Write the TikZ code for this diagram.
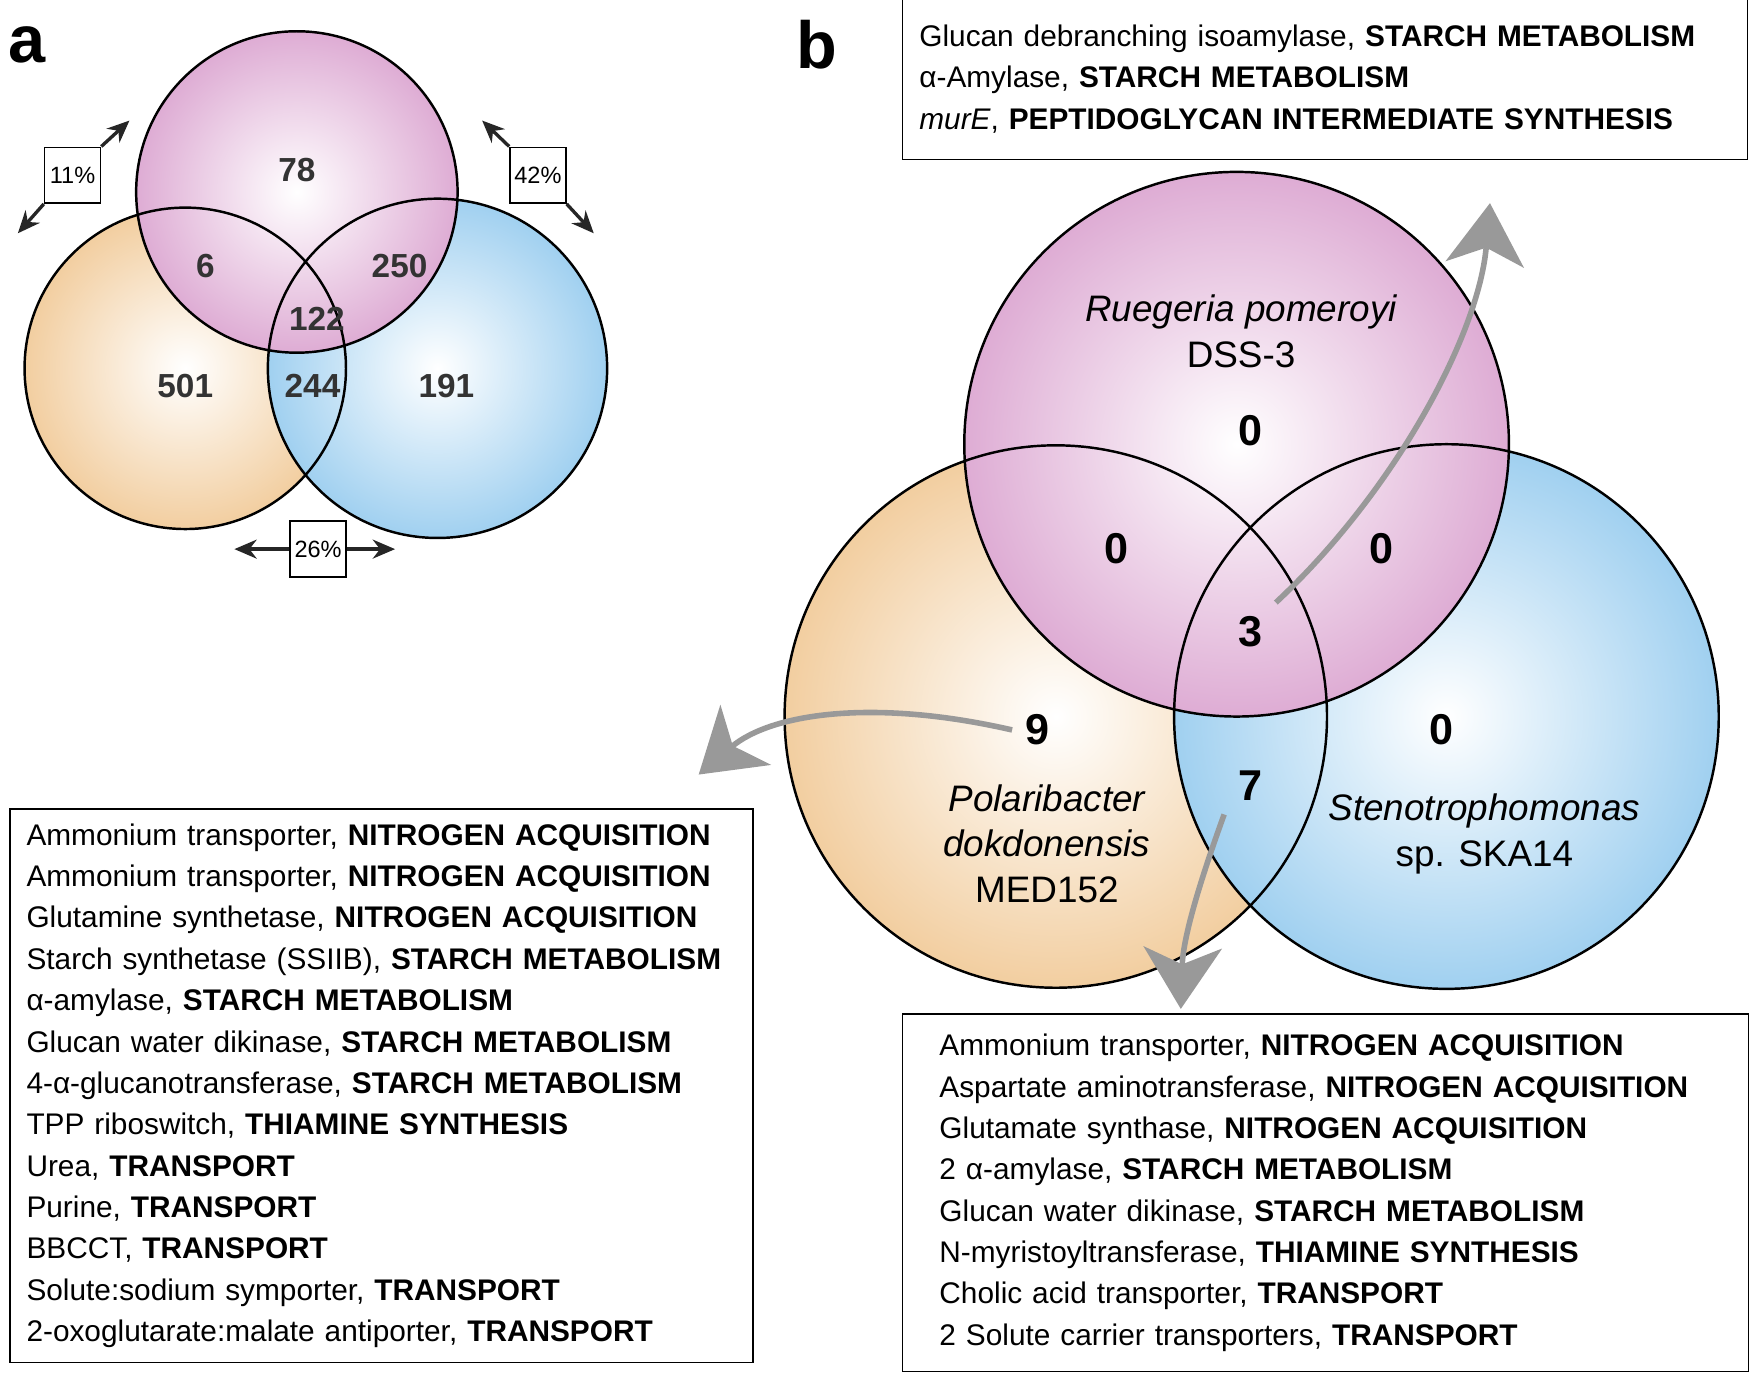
\documentclass[tikz,border=0pt]{standalone}
\usepackage{fontspec}
\setmainfont{Liberation Sans}
\usetikzlibrary{arrows.meta}
\definecolor{vpink}{RGB}{222,172,212}
\definecolor{vorange}{RGB}{242,206,160}
\definecolor{vblue}{RGB}{160,208,240}
\tikzset{
  venn/.style={shading=radial,inner color=white},
  rim/.style={draw=black,line width=0.22mm},
  cnt/.style={font=\fontsize{8.5}{10}\selectfont\bfseries,text=black!80},
  bcnt/.style={font=\fontsize{11}{12}\selectfont\bfseries},
  sp/.style={font=\fontsize{9.4}{11.6}\selectfont,align=center},
  pct/.style={draw,fill=white,line width=0.15mm,minimum size=5mm,inner sep=0pt,font=\fontsize{6}{7}\selectfont},
  pa/.style={-{Stealth[length=2mm,width=1.7mm]},line width=0.3mm,draw=black!85},
  lst/.style={draw,line width=0.15mm,anchor=north west,align=left,font=\fontsize{7.6}{10.55}\selectfont},
  garr/.style={draw=black!40,line width=0.5mm,-{Stealth[length=5.5mm,width=7mm,inset=1.5mm]}}
}
\begin{document}
\begin{tikzpicture}[x=0.1mm,y=-0.1mm]
\useasboundingbox (0,0) rectangle (1568,1230);

% panel a
\shade[venn,outer color=vorange] (166,330) circle (144);
\shade[venn,outer color=vblue] (392,330) circle (152);
\shade[venn,outer color=vpink] (266,172) circle (144);
\draw[rim] (166,330) circle (144) (392,330) circle (152) (266,172) circle (144);
\node[font=\fontsize{17}{18}\selectfont\bfseries] (la) at (24,40) {a};
\node[cnt] (a78) at (266,152) {78};
\node[cnt] (a6) at (184,238) {6};
\node[cnt] (a250) at (358,238) {250};
\node[cnt] (a122) at (284,286) {122};
\node[cnt] (a501) at (166,346) {501};
\node[cnt] (a244) at (280,346) {244};
\node[cnt] (a191) at (400,346) {191};

\node[pct] (p11) at (65,157) {11\%};
\node[pct] (p42) at (482,157) {42\%};
\node[pct] (p26) at (285,492) {26\%};
\coordinate (e11a) at (116,108); \coordinate (e11b) at (16,209);
\coordinate (e42a) at (432,108); \coordinate (e42b) at (532,209);
\coordinate (e26a) at (210,492); \coordinate (e26b) at (354,492);
\draw[pa] (p11.north east) -- (e11a);
\draw[pa] (p11.south west) -- (e11b);
\draw[pa] (p42.north west) -- (e42a);
\draw[pa] (p42.south east) -- (e42b);
\draw[pa] (p26.west) -- (e26a);
\draw[pa] (p26.east) -- (e26b);

% panel b
\node[font=\fontsize{17}{18}\selectfont\bfseries] (lb) at (732,40) {b};
\shade[venn,outer color=vorange] (946,642) circle (243);
\shade[venn,outer color=vblue] (1296,642) circle (244);
\shade[venn,outer color=vpink] (1108,398) circle (244);
\draw[rim] (946,642) circle (243) (1296,642) circle (244) (1108,398) circle (244);

\node[sp] (rp) at (1112,297) {\itshape Ruegeria pomeroyi\\DSS-3};
\node[sp] (pd) at (938,756) {\itshape Polaribacter\\\itshape dokdonensis\\MED152};
\node[sp] (st) at (1330,747) {\itshape Stenotrophomonas\\sp. SKA14};
\node[bcnt] (b0a) at (1120,386) {0};
\node[bcnt] (b0b) at (1000,492) {0};
\node[bcnt] (b0c) at (1238,492) {0};
\node[bcnt] (b3) at (1120,566) {3};
\node[bcnt] (b9) at (930,654) {9};
\node[bcnt] (b0d) at (1292,654) {0};
\node[bcnt] (b7) at (1120,704) {7};

\node[lst,inner xsep=1.5mm,text width=72.7mm,minimum height=14.4mm] (top) at (808,-2) {%
Glucan debranching isoamylase, \textbf{STARCH METABOLISM}\\
α-Amylase, \textbf{STARCH METABOLISM}\\
\textit{murE}, \textbf{PEPTIDOGLYCAN INTERMEDIATE SYNTHESIS}};
\node[lst,inner xsep=1.5mm,text width=63.6mm,minimum height=49.6mm] (left) at (8,724) {%
Ammonium transporter, \textbf{NITROGEN ACQUISITION}\\
Ammonium transporter, \textbf{NITROGEN ACQUISITION}\\
Glutamine synthetase, \textbf{NITROGEN ACQUISITION}\\
Starch synthetase (SSIIB), \textbf{STARCH METABOLISM}\\
α-amylase, \textbf{STARCH METABOLISM}\\
Glucan water dikinase, \textbf{STARCH METABOLISM}\\
4-α-glucanotransferase, \textbf{STARCH METABOLISM}\\
TPP riboswitch, \textbf{THIAMINE SYNTHESIS}\\
Urea, \textbf{TRANSPORT}\\
Purine, \textbf{TRANSPORT}\\
BBCCT, \textbf{TRANSPORT}\\
Solute:sodium symporter, \textbf{TRANSPORT}\\
2-oxoglutarate:malate antiporter, \textbf{TRANSPORT}};
\node[lst,inner xsep=3.3mm,text width=69.2mm,minimum height=32mm] (right) at (808,908) {%
Ammonium transporter, \textbf{NITROGEN ACQUISITION}\\
Aspartate aminotransferase, \textbf{NITROGEN ACQUISITION}\\
Glutamate synthase, \textbf{NITROGEN ACQUISITION}\\
2 α-amylase, \textbf{STARCH METABOLISM}\\
Glucan water dikinase, \textbf{STARCH METABOLISM}\\
N-myristoyltransferase, \textbf{THIAMINE SYNTHESIS}\\
Cholic acid transporter, \textbf{TRANSPORT}\\
2 Solute carrier transporters, \textbf{TRANSPORT}};

\coordinate (t3) at (1335,182);
\coordinate (t9) at (626,694);
\coordinate (t7) at (1058,904);
\draw[garr] (b3.north east) .. controls (1250,440) and (1325,300) .. (t3);
\draw[garr] (b9.west) .. controls (780,625) and (690,640) .. (t9);
\draw[garr] (b7.south west) .. controls (1075,790) and (1060,840) .. (t7);
\end{tikzpicture}
\end{document}
